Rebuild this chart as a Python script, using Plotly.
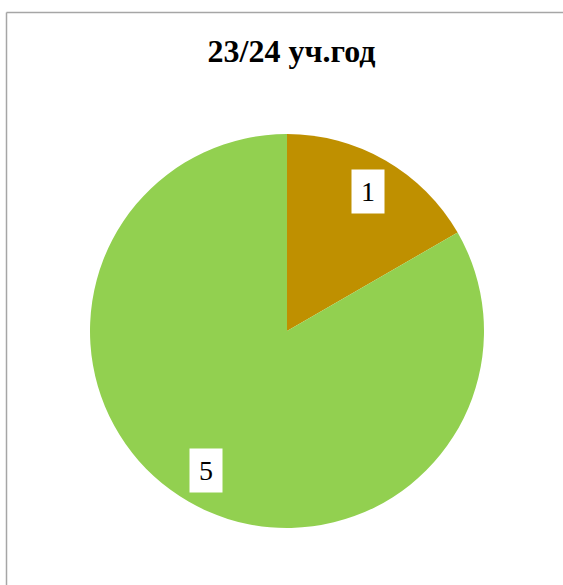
import math
import plotly.graph_objects as go

# ── Data ─────────────────────────────────────────────────────────────────────
TITLE = "23/24 уч.год"
CATEGORIES = ["A", "B"]
VALUES = [1, 5]
COLORS = ["#BF9000", "#92D050"]

W, H = 563, 585


def px_x(x):
    return x / W


def px_y(y):
    return 1 - y / H


# pie placement (pixels)
CX, CY, R = 287, 331, 197
dom_x = [px_x(CX - R), px_x(CX + R)]
dom_y = [px_y(CY + R), px_y(CY - R)]

fig = go.Figure(go.Pie(
    labels=CATEGORIES,
    values=VALUES,
    sort=False,
    direction="clockwise",
    rotation=0,
    marker=dict(colors=COLORS, line=dict(width=0)),
    textinfo="none",
    hoverinfo="skip",
    domain=dict(x=dom_x, y=dom_y),
))

# data labels in white boxes, at the middle angle of each slice
total = sum(VALUES)
start = 0.0
for v in VALUES:
    mid = (start + v / 2) / total * 2 * math.pi
    start += v
    lx = CX + 0.82 * R * math.sin(mid)
    ly = CY - 0.82 * R * math.cos(mid)
    fig.add_annotation(
        x=px_x(lx), y=px_y(ly), xref="paper", yref="paper",
        text=str(v), showarrow=False,
        font=dict(family="Liberation Serif", size=28, color="black"),
        bgcolor="white", width=30, height=41, borderpad=1,
        xanchor="center", yanchor="middle",
    )

# chart frame: only top and left edges are visible in the source
frame = dict(color="#A6A6A6", width=1.5)
fig.add_shape(type="line", xref="paper", yref="paper",
              x0=px_x(6.5), x1=1.0, y0=px_y(12.5), y1=px_y(12.5), line=frame)
fig.add_shape(type="line", xref="paper", yref="paper",
              x0=px_x(6.5), x1=px_x(6.5), y0=0.0, y1=px_y(12.5), line=frame)

fig.update_layout(
    title=dict(
        text=f"<b>{TITLE}</b>",
        font=dict(family="Liberation Serif", size=32, color="black"),
        x=px_x(291.5), xanchor="center",
        y=px_y(51), yanchor="middle", yref="container",
    ),
    width=W, height=H,
    margin=dict(l=0, r=0, t=0, b=0),
    paper_bgcolor="white",
    showlegend=False,
)

fig.write_html(
    "out.html",
    config={"displayModeBar": False},
    post_script="document.body.style.margin='0';"
                "document.body.style.overflow='hidden';"
                "document.documentElement.style.overflow='hidden';",
)
